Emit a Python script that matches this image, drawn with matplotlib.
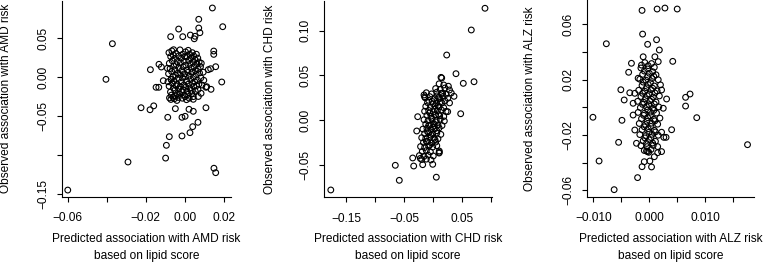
import matplotlib
matplotlib.use("Agg")
import matplotlib.pyplot as plt

plt.rcParams['font.family'] = ['Liberation Sans', 'DejaVu Sans']

# ---------------- AMD panel data ----------------
amd_out_x = [-0.0600, -0.0404, -0.0371, -0.0291, -0.0224, -0.0178, -0.0159, -0.0176, -0.0147, -0.0133,
             -0.0132, -0.0120, -0.0110, -0.0098, -0.0094, -0.0087, -0.0079, -0.0014, -0.0014, 0.0002,
             -0.0048, 0.0022, 0.0027, 0.0041, 0.0068, 0.0044, 0.0109, -0.0072, -0.0031, -0.0010,
             0.0029, 0.0053, 0.0072, 0.0072, 0.0078, 0.0142, 0.0195, 0.0149, 0.0149, 0.0159,
             0.0121, 0.0133, 0.0190, 0.0135, 0.0109, 0.0085, 0.0150, 0.0159, 0.0049, -0.0069,
             0.0089, 0.0113, 0.0084, 0.0070, 0.0044]
amd_out_y = [-0.1450, -0.0030, 0.0427, -0.1090, -0.0394, -0.0420, -0.0370, 0.0094, -0.0132, -0.0132,
             0.0163, 0.0128, -0.0047, -0.1040, -0.0876, -0.0517, -0.0765, -0.0756, -0.0517, -0.0504,
             -0.0406, -0.0414, -0.0714, -0.0637, -0.0581, -0.0440, -0.0394, 0.0517, 0.0615, 0.0517,
             0.0538, 0.0522, 0.0740, 0.0628, 0.0568, 0.0885, 0.0645, 0.0333, 0.0290, 0.0132,
             0.0094, 0.0106, -0.0064, -0.0158, -0.0132, 0.0176, -0.1170, -0.1227, 0.0490, -0.0030,
             -0.0103, -0.0124, -0.0209, -0.0250, -0.0286]
amd_core_x = [-0.0081, -0.0079, -0.0083, -0.0080, -0.0078, -0.0072, -0.0075, -0.0070, -0.0073, -0.0071,
              -0.0066, -0.0064, -0.0067, -0.0063, -0.0068, -0.0059, -0.0057, -0.0061, -0.0058, -0.0060,
              -0.0052, -0.0050, -0.0054, -0.0051, -0.0053, -0.0045, -0.0043, -0.0046, -0.0044, -0.0047,
              -0.0038, -0.0036, -0.0039, -0.0037, -0.0040, -0.0031, -0.0029, -0.0032, -0.0030, -0.0033,
              -0.0024, -0.0022, -0.0025, -0.0023, -0.0026, -0.0017, -0.0015, -0.0018, -0.0016, -0.0010,
              -0.0008, -0.0011, -0.0009, -0.0012, -0.0003, -0.0001, -0.0004, -0.0002, 0.0004, 0.0006,
              0.0003, 0.0005, 0.0002, 0.0011, 0.0013, 0.0010, 0.0012, 0.0018, 0.0020, 0.0017,
              0.0019, 0.0016, 0.0025, 0.0027, 0.0024, 0.0026, 0.0023, 0.0032, 0.0034, 0.0031,
              0.0033, 0.0039, 0.0041, 0.0038, 0.0040, 0.0037, 0.0046, 0.0048, 0.0045, 0.0047,
              0.0044, 0.0053, 0.0055, 0.0052, 0.0054, 0.0060, 0.0062, 0.0059, 0.0061, 0.0067,
              0.0069, 0.0066, 0.0068, 0.0074, 0.0076, 0.0073, 0.0081, 0.0083, 0.0095, 0.0098,
              -0.0086, -0.0089, 0.0001, -0.0057, 0.0009]
amd_core_y = [0.0312, 0.0176, 0.0042, -0.0118, -0.0268, 0.0262, 0.0108, -0.0031, -0.0192, -0.0288,
              0.0335, 0.0208, 0.0071, -0.0083, -0.0232, 0.0281, 0.0139, 0.0004, -0.0142, -0.0262,
              0.0238, 0.0092, -0.0052, -0.0171, -0.0279, 0.0302, 0.0158, 0.0021, -0.0112, -0.0241,
              0.0198, 0.0049, -0.0093, -0.0213, -0.0301, 0.0271, 0.0119, -0.0018, -0.0152, -0.0262,
              0.0348, 0.0183, 0.0032, -0.0121, -0.0221, 0.0243, 0.0081, -0.0062, -0.0189, 0.0292,
              0.0131, -0.0012, -0.0162, -0.0272, 0.0203, 0.0041, -0.0101, -0.0231, 0.0322, 0.0152,
              0.0002, -0.0131, -0.0252, 0.0262, 0.0091, -0.0052, -0.0182, 0.0342, 0.0212, 0.0061,
              -0.0091, -0.0222, 0.0292, 0.0162, 0.0012, -0.0141, -0.0272, 0.0242, 0.0112, -0.0031,
              -0.0172, 0.0312, 0.0192, 0.0062, -0.0081, -0.0212, 0.0272, 0.0132, 0.0001, -0.0122,
              -0.0252, 0.0222, 0.0082, -0.0061, -0.0182, 0.0292, 0.0172, 0.0032, -0.0111, 0.0242,
              0.0101, -0.0041, -0.0162, 0.0192, 0.0052, -0.0091, 0.0132, -0.0011, 0.0062, -0.0042,
              -0.0061, 0.0112, 0.0262, 0.0350, -0.0291]

# ---------------- CHD panel data ----------------
chd_out_x = [-0.1767, 0.0891, 0.0655, 0.0231, 0.0391, 0.0517, 0.0702, 0.0472, 0.0357, -0.0655,
             -0.0586, -0.0338, -0.0355, -0.0183, -0.0010, 0.0052, 0.0103, 0.0103, 0.0100, -0.0224,
             -0.0269, -0.0286, 0.0248, 0.0145, -0.0160, -0.0150, 0.0133]
chd_out_y = [-0.0783, 0.1250, 0.1007, 0.0727, 0.0518, 0.0410, 0.0428, 0.0070, 0.0265, -0.0507,
             -0.0675, -0.0515, -0.0425, -0.0500, -0.0496, -0.0640, -0.0347, -0.0362, -0.0370, -0.0430,
             0.0037, -0.0123, 0.0093, 0.0470, 0.0280, 0.0260, 0.0477]
chd_core_x = [0.010, 0.018, 0.026,
              0.004, 0.012, 0.020, 0.028,
              -0.012, -0.003, 0.006, 0.014, 0.022, 0.031,
              -0.014, -0.006, 0.002, 0.009, 0.017, 0.025,
              -0.010, -0.002, 0.005, 0.012, 0.020, 0.028,
              -0.013, -0.005, 0.003, 0.010, 0.018,
              -0.015, -0.008, 0.000, 0.007, 0.014, 0.022,
              -0.011, -0.004, 0.004, 0.011, 0.018,
              -0.016, -0.009, -0.002, 0.005, 0.012, 0.019,
              -0.013, -0.006, 0.001, 0.008, 0.015,
              -0.018, -0.011, -0.004, 0.003, 0.010,
              -0.015, -0.008, -0.001, 0.006, 0.013,
              -0.020, -0.013, -0.006, 0.001, 0.008,
              -0.017, -0.010, -0.003, 0.004,
              -0.022, -0.015, -0.008, -0.001, 0.006,
              -0.019, -0.012, -0.005,
              -0.024, -0.016, -0.009, 0.000,
              -0.020, -0.012, -0.004,
              0.000, 0.008, -0.006, 0.002, 0.009, -0.003, 0.004, -0.008, -0.001, 0.006,
              -0.010, -0.004, 0.003, -0.012, -0.006, 0.011, 0.016, 0.006, 0.015, -0.008]
chd_core_y = [0.0405, 0.0392, 0.0378,
              0.0352, 0.0341, 0.0358, 0.0336,
              0.0305, 0.0292, 0.0311, 0.0298, 0.0287, 0.0302,
              0.0248, 0.0261, 0.0238, 0.0252, 0.0264, 0.0243,
              0.0195, 0.0208, 0.0189, 0.0202, 0.0213, 0.0191,
              0.0152, 0.0141, 0.0158, 0.0146, 0.0137,
              0.0098, 0.0107, 0.0092, 0.0103, 0.0112, 0.0096,
              0.0052, 0.0043, 0.0058, 0.0047, 0.0039,
              0.0003, -0.0008, 0.0006, -0.0004, 0.0009, -0.0011,
              -0.0047, -0.0058, -0.0043, -0.0055, -0.0062,
              -0.0102, -0.0093, -0.0108, -0.0097, -0.0089,
              -0.0153, -0.0142, -0.0158, -0.0147, -0.0161,
              -0.0198, -0.0207, -0.0192, -0.0203, -0.0211,
              -0.0252, -0.0243, -0.0258, -0.0247,
              -0.0297, -0.0308, -0.0292, -0.0303, -0.0288,
              -0.0352, -0.0343, -0.0357,
              -0.0398, -0.0407, -0.0393, -0.0402,
              -0.0442, -0.0438, -0.0447,
              0.018, 0.016, 0.008, 0.012, 0.006, 0.002, -0.002, -0.006, -0.008, -0.012,
              -0.013, -0.017, -0.022, -0.024, -0.028, 0.024, 0.030, 0.027, 0.019, 0.022]

# ---------------- ALZ panel data ----------------
alz_out_x = [-0.0101, -0.0090, -0.0077, -0.0063, -0.0055, -0.0051, -0.0049, -0.0045, -0.0037, -0.0035,
             -0.0032, -0.0021, -0.0013, 0.0014, 0.0028, 0.0050, -0.0012, -0.0003, 0.0013, 0.0018,
             0.0042, 0.0040, 0.0065, 0.0073, 0.0065, 0.0085, 0.0176, -0.0013, 0.0004, 0.0026,
             0.0030, 0.0022,
             -0.0009, 0.0001, -0.0003, -0.0001, -0.0005, 0.0009, 0.0015, 0.0015, 0.0022, -0.0023,
             -0.0026, -0.0029, -0.0029, -0.0026, -0.0020, -0.0014, -0.0011, 0.0010, 0.0016, 0.0022,
             0.0031, 0.0025]
alz_out_y = [-0.0072, -0.0388, 0.0459, -0.0595, -0.0253, 0.0127, -0.0094, 0.0053, 0.0253, 0.0105,
             0.0318, -0.0508, 0.0700, 0.0710, 0.0717, 0.0710, 0.0529, 0.0455, 0.0488, 0.0414,
             0.0332, -0.0162, 0.0072, 0.0096, 0.0009, -0.0075, -0.0270, -0.0429, -0.0431, -0.0217,
             -0.0217, -0.0320,
             -0.0393, -0.0388, -0.0320, -0.0325, -0.0316, -0.0357, -0.0328, -0.0284, -0.0180, -0.0260,
             -0.0164, -0.0056, 0.0029, 0.0101, 0.0210, 0.0305, 0.0365, 0.0365, 0.0330, 0.0125,
             0.0060, -0.0007]
alz_core_x = [-0.0008, 0.0004,
              -0.0015, -0.0003, 0.0009,
              -0.0012, 0.0000, 0.0012,
              -0.0017, -0.0006, 0.0005, 0.0016,
              -0.0013, -0.0002, 0.0009, 0.0020,
              -0.0019, -0.0008, 0.0003, 0.0014,
              -0.0015, -0.0004, 0.0007, 0.0018,
              -0.0021, -0.0010, 0.0001, 0.0012,
              -0.0016, -0.0005, 0.0006, 0.0017,
              -0.0020, -0.0009, 0.0002, 0.0013,
              -0.0014, -0.0003, 0.0008, 0.0019,
              -0.0018, -0.0007, 0.0004, 0.0015,
              -0.0013, -0.0002, 0.0009,
              -0.0017, -0.0006, 0.0005, 0.0016,
              -0.0011, 0.0000, 0.0011,
              -0.0015, -0.0004, 0.0007,
              -0.0009, 0.0003,
              -0.0002, -0.0009, 0.0006, -0.0003, 0.0008, -0.0011, 0.0002, -0.0005, 0.0006, -0.0012,
              0.0000, 0.0010, -0.0007, 0.0004, -0.0012, 0.0000, 0.0009, -0.0003, 0.0008, -0.0010,
              0.0002, -0.0004, 0.0010, -0.0009, 0.0003, -0.0001, 0.0011, -0.0008, 0.0003, -0.0005,
              0.0006]
alz_core_y = [0.0323, 0.0316,
              0.0284, 0.0277, 0.0289,
              0.0238, 0.0246, 0.0235,
              0.0203, 0.0196, 0.0208, 0.0199,
              0.0158, 0.0165, 0.0154, 0.0162,
              0.0123, 0.0116, 0.0127, 0.0118,
              0.0078, 0.0085, 0.0074, 0.0082,
              0.0043, 0.0036, 0.0047, 0.0038,
              -0.0002, 0.0005, -0.0006, 0.0003,
              -0.0037, -0.0044, -0.0035, -0.0042,
              -0.0082, -0.0075, -0.0086, -0.0078,
              -0.0117, -0.0124, -0.0115, -0.0122,
              -0.0162, -0.0155, -0.0166,
              -0.0197, -0.0204, -0.0195, -0.0202,
              -0.0242, -0.0235, -0.0246,
              -0.0277, -0.0284, -0.0275,
              -0.0312, -0.0305,
              0.0301, 0.0262, 0.0257, 0.0221, 0.0224, 0.0182, 0.0178, 0.0141, 0.0138, 0.0101,
              0.0097, 0.0104, 0.0061, 0.0058, 0.0021, 0.0018, 0.0024, -0.0019, -0.0022, -0.0058,
              -0.0062, -0.0101, -0.0098, -0.0141, -0.0138, -0.0181, -0.0178, -0.0221, -0.0218, -0.0261,
              -0.0258]

# ---------------- ticks and labels ----------------
M = '\u2212'
amd_xticks = [-0.06, -0.04, -0.02, 0.00, 0.02]
amd_xticklabels = [M + '0.06', '', M + '0.02', '0.00', '0.02']
amd_yticks = [-0.15, -0.10, -0.05, 0.00, 0.05]
amd_yticklabels = [M + '0.15', '', M + '0.05', '0.00', '0.05']

chd_xticks = [-0.15, -0.10, -0.05, 0.00, 0.05, 0.10]
chd_xticklabels = [M + '0.15', '', M + '0.05', '', '0.05', '']
chd_yticks = [-0.05, 0.00, 0.05, 0.10]
chd_yticklabels = [M + '0.05', '0.00', '0.05', '0.10']

alz_xticks = [-0.010, -0.005, 0.000, 0.005, 0.010, 0.015]
alz_xticklabels = [M + '0.010', '', '0.000', '', '0.010', '']
alz_yticks = [-0.06, -0.04, -0.02, 0.00, 0.02, 0.04, 0.06]
alz_yticklabels = [M + '0.06', '', M + '0.02', '', '0.02', '', '0.06']

amd_xlabel = ['Predicted association with AMD risk', 'based on lipid score']
chd_xlabel = ['Predicted association with CHD risk', 'based on lipid score']
alz_xlabel = ['Predicted association with ALZ risk', 'based on lipid score']
amd_ylabel = 'Observed association with AMD risk'
chd_ylabel = 'Observed association with CHD risk'
alz_ylabel = 'Observed association with ALZ risk'

# ---------------- layout (pixels) ----------------
W, H = 765, 262
FS = 8.6
fig = plt.figure(figsize=(W / 100, H / 100), dpi=100)

panels = [
    dict(box=(62.3, 231.0, 0.5, 196.7), xlim=(-0.0628, 0.02375), ylim=(-0.1535, 0.0981),
         x=amd_out_x + amd_core_x, y=amd_out_y + amd_core_y,
         xt=amd_xticks, xtl=amd_xticklabels, yt=amd_yticks, ytl=amd_yticklabels,
         xl=amd_xlabel, yl=amd_ylabel, ylx=6.0),
    dict(box=(324.3, 491.6, 0.5, 197.3), xlim=(-0.1879, 0.1005), ylim=(-0.0865, 0.1337),
         x=chd_out_x + chd_core_x, y=chd_out_y + chd_core_y,
         xt=chd_xticks, xtl=chd_xticklabels, yt=chd_yticks, ytl=chd_yticklabels,
         xl=chd_xlabel, yl=chd_ylabel, ylx=269.7),
    dict(box=(587.3, 754.0, 0.3, 197.0), xlim=(-0.01111, 0.01876), ylim=(-0.0648, 0.0773),
         x=alz_out_x + alz_core_x, y=alz_out_y + alz_core_y,
         xt=alz_xticks, xtl=alz_xticklabels, yt=alz_yticks, ytl=alz_yticklabels,
         xl=alz_xlabel, yl=alz_ylabel, ylx=530.0),
]

for p in panels:
    l, r, t, b = p['box']
    ax = fig.add_axes([l / W, 1 - b / H, (r - l) / W, (b - t) / H])
    ax.scatter(p['x'], p['y'], s=17, facecolors='none', edgecolors='black',
               linewidths=0.8, clip_on=False)
    ax.set_xlim(*p['xlim'])
    ax.set_ylim(*p['ylim'])
    for s in ('top', 'right'):
        ax.spines[s].set_visible(False)
    for s in ('left', 'bottom'):
        ax.spines[s].set_linewidth(0.8)
    ax.set_xticks(p['xt'])
    ax.set_xticklabels(p['xtl'], fontsize=FS)
    ax.set_yticks(p['yt'])
    ax.set_yticklabels(p['ytl'], fontsize=FS, rotation=90, va='center')
    ax.tick_params(direction='out', length=3.6, width=0.8)
    ax.tick_params(axis='x', pad=7.5)
    ax.tick_params(axis='y', pad=5.5)
    cx = (l + r) / 2 / W
    fig.text(cx, 1 - 239.3 / H, p['xl'][0], ha='center', va='center', fontsize=FS)
    fig.text(cx, 1 - 255.5 / H, p['xl'][1], ha='center', va='center', fontsize=FS)
    fig.text(p['ylx'] / W, 1 - (t + b) / 2 / H, p['yl'], rotation=90,
             ha='center', va='center', fontsize=FS)

fig.savefig('out.png', dpi=100)
